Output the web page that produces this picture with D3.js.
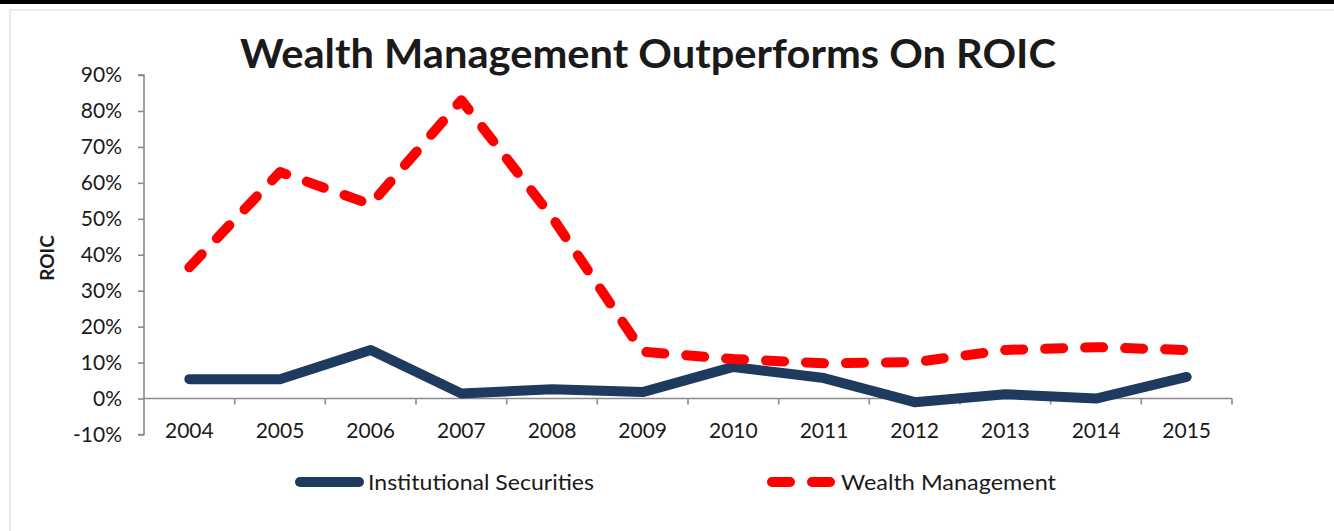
<!DOCTYPE html>
<html>
<head>
<meta charset="utf-8">
<script src="https://cdn.jsdelivr.net/npm/d3@7"></script>
<style>
    body { margin: 0; background: #fff; }
    svg text { font-family: Lato, "Open Sans", sans-serif; fill: #1a1a1a; }
</style>
</head>
<body>
<div id="chart"></div>
<script>
"use strict";

// values (percent)
let years = ["2004", "2005", "2006", "2007", "2008", "2009", "2010", "2011", "2012", "2013", "2014", "2015"];
let institutional = [5.4, 5.4, 13.5, 1.4, 2.6, 1.8, 8.8, 5.7, -1.0, 1.2, 0.0, 6.0];
let wealth = [36.5, 63, 54, 83, 50.5, 13, 11, 9.8, 10.1, 13.5, 14.3, 13.5];
let yTicks = [-10, 0, 10, 20, 30, 40, 50, 60, 70, 80, 90];
let seriesNames = ["Institutional Securities", "Wealth Management"];

function drawChart() {
    let width = 1334;
    let height = 531;

    let svg = d3.select("#chart").append("svg")
        .attr("width", width).attr("height", height);

    // page frame
    svg.append("rect").attr("x", 0).attr("y", 0).attr("width", width).attr("height", 4)
        .style("fill", "#000");
    svg.append("rect").attr("x", 10).attr("y", 10).attr("width", width).attr("height", height)
        .style("fill", "none").style("stroke", "#d6d6d6").style("stroke-width", 1);

    // scales
    let xScale = d3.scaleBand().domain(years).range([144, 1232]).padding(0);
    let yScale = d3.scaleLinear().domain([-10, 90]).range([434.5, 75]);
    let xMid = function (d, i) {
        return xScale(years[i]) + xScale.bandwidth() / 2;
    };

    // title
    svg.append("text").attr("x", 648).attr("y", 68)
        .attr("text-anchor", "middle").style("font-weight", "bold").style("font-size", "40px")
        .attr("textLength", 816).attr("lengthAdjust", "spacingAndGlyphs")
        .text("Wealth Management Outperforms On ROIC");

    // y axis
    let yAxis = svg.append("g").attr("transform", "translate(144,0)")
        .call(d3.axisLeft(yScale).tickValues(yTicks).tickSize(6).tickPadding(16)
            .tickFormat(function (d) { return d + "%"; }));
    yAxis.selectAll("text").style("font-size", "21px");
    yAxis.select(".domain").attr("d", `M-6,${yScale(-10)}H0V${yScale(90)}H-6`);

    svg.append("text").attr("transform", "rotate(-90)")
        .attr("x", -258).attr("y", 54).attr("text-anchor", "middle")
        .style("font-weight", "bold").style("font-size", "19px").text("ROIC");

    // x axis at 0%
    let xAxis = svg.append("g").attr("transform", `translate(0,${yScale(0)})`)
        .call(d3.axisBottom(xScale).tickSize(0).tickPadding(25));
    xAxis.selectAll("text").style("font-size", "21px");
    xAxis.select(".domain").attr("d", `M144,0H1232`);

    // boundary ticks between categories
    let bounds = years.map(function (y) { return xScale(y); }).concat([xScale.range()[1]]);
    xAxis.selectAll(".btick").data(bounds.slice(1)).enter().append("line")
        .attr("class", "btick")
        .attr("x1", function (d) { return d; }).attr("x2", function (d) { return d; })
        .attr("y1", 0).attr("y2", 6);

    svg.selectAll(".domain, .tick line, .btick")
        .style("stroke", "#8c8c8c").style("stroke-width", 1.6);

    // lines
    let line = d3.line().x(xMid).y(function (d) { return yScale(d); });

    svg.append("path").datum(institutional).attr("d", line)
        .style("fill", "none").style("stroke", "#1f3a5f").style("stroke-width", 10)
        .style("stroke-linejoin", "round").style("stroke-linecap", "round");

    svg.append("path").datum(wealth).attr("d", line)
        .style("fill", "none").style("stroke", "#ff0000").style("stroke-width", 10)
        .style("stroke-dasharray", "18,22")
        .style("stroke-linejoin", "round").style("stroke-linecap", "round");

    // legend
    let legY = 482;
    svg.append("line").attr("x1", 300).attr("x2", 359).attr("y1", legY).attr("y2", legY)
        .style("stroke", "#1f3a5f").style("stroke-width", 10).style("stroke-linecap", "round");
    svg.append("text").attr("x", 368).attr("y", legY + 8).style("font-size", "21px")
        .attr("textLength", 226).attr("lengthAdjust", "spacingAndGlyphs").text(seriesNames[0]);

    svg.append("line").attr("x1", 772).attr("x2", 830).attr("y1", legY).attr("y2", legY)
        .style("stroke", "#ff0000").style("stroke-width", 10).style("stroke-linecap", "round")
        .style("stroke-dasharray", "18,22");
    svg.append("text").attr("x", 841).attr("y", legY + 8).style("font-size", "21px")
        .attr("textLength", 215).attr("lengthAdjust", "spacingAndGlyphs").text(seriesNames[1]);
}

window.onload = function () {
    drawChart();
};
</script>
</body>
</html>
